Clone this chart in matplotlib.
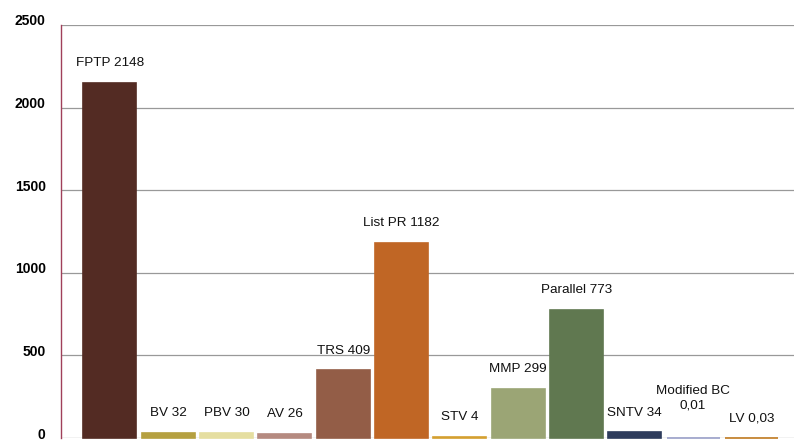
import matplotlib.pyplot as plt
import matplotlib.transforms as mtransforms
import numpy as np

# Дані
systems = ['FPTP', 'BV', 'PBV', 'AV', 'TRS', 'List PR', 'STV', 'MMP',
           'Parallel', 'SNTV', 'Modified BC', 'LV']
values = [2148, 32, 30, 26, 409, 1182, 4, 299, 773, 34, 0.01, 0.03]
value_labels = ['2148', '32', '30', '26', '409', '1182', '4', '299',
                '773', '34', '0,01', '0,03']
colors = ['#532b23', '#b5a040', '#e5dea0', '#b58a80', '#935d47', '#c06625',
          '#d4a030', '#9ba575', '#607850', '#2e3c5c', '#9aa0c8', '#c07a20']

plt.rcParams['font.family'] = ['Liberation Sans', 'DejaVu Sans']

fig = plt.figure(figsize=(7.94, 4.4), dpi=100)
ax = fig.add_axes([0.0768, 0.0045, 0.9232, 0.9387])

x = np.arange(len(systems))
bars = ax.bar(x, values, width=0.91, color=colors, edgecolor=colors,
              linewidth=1.2, zorder=3)
for b in bars:
    b.set_clip_on(False)

# Підписи над стовпчиками
for i, (name, val) in enumerate(zip(systems, value_labels)):
    if name == 'Modified BC':
        text, off = name + '\n' + val, 19
    else:
        text, off = name + ' ' + val, 10
    ax.annotate(text, (x[i], values[i]), xytext=(0, off),
                textcoords='offset points', ha='center', va='bottom',
                fontsize=9.7, color='#111111', linespacing=1.3)

ax.set_xlim(-0.84, 11.73)
ax.set_ylim(0, 2500)
ax.set_yticks([0, 500, 1000, 1500, 2000, 2500])
ax.set_xticks([])
ax.grid(axis='y', color='#999999', linewidth=0.9, zorder=0)
ax.tick_params(axis='y', length=0, pad=11, labelsize=10)
shift = mtransforms.ScaledTranslation(0, 5 / 100, fig.dpi_scale_trans)
for lbl in ax.get_yticklabels():
    lbl.set_fontweight('bold')
    lbl.set_transform(lbl.get_transform() + shift)

for s in ['top', 'right', 'bottom']:
    ax.spines[s].set_visible(False)
ax.spines['left'].set_color('#a0405a')
ax.spines['left'].set_linewidth(1.0)

plt.savefig('out.png', dpi=100)
